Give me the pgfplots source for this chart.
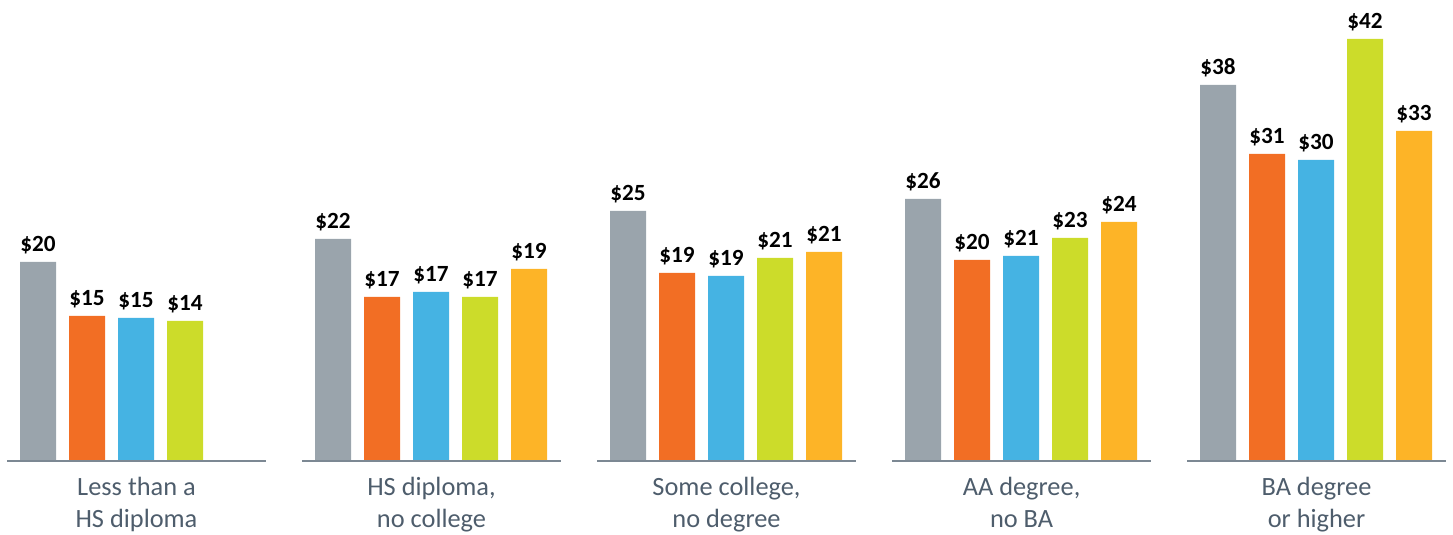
\documentclass[border=0pt]{standalone}
\usepackage{fontspec}
\setmainfont{Carlito}
\usepackage{pgfplots}
\pgfplotsset{compat=1.18}
\definecolor{cgray}{HTML}{9AA4AC}
\definecolor{corange}{HTML}{F26E24}
\definecolor{cblue}{HTML}{45B3E3}
\definecolor{cgreen}{HTML}{CCDC2A}
\definecolor{cyellow}{HTML}{FDB427}
\definecolor{baseln}{HTML}{7C8893}
\definecolor{labtxt}{HTML}{4E5D6C}

\begin{document}
\begin{tikzpicture}
\begin{axis}[
  width=14.53cm, height=5.34cm, scale only axis,
  xmin=0, xmax=1453, ymin=-7.3, ymax=46.1,
  hide axis, clip=false,
  point meta=explicit symbolic,
  nodes near coords={\$\pgfplotspointmeta},
  every node near coord/.append style={anchor=base, inner sep=0pt,
    yshift=1mm, font=\fontsize{6.6}{7.5}\selectfont\bfseries, text=black},
  bars/.style={ybar, bar width=36, bar shift=0pt, draw=none},
]
% x = bar centre in pixel units, y = dollars
\addplot[bars, fill=cgray] coordinates {
  (38,19.9)[20] (333,22.2)[22] (628,25.0)[25] (923,26.2)[26] (1218,37.6)[38]};
\addplot[bars, fill=corange] coordinates {
  (87,14.5)[15] (382,16.4)[17] (677,18.8)[19] (972,20.1)[20] (1267,30.7)[31]};
\addplot[bars, fill=cblue] coordinates {
  (136,14.3)[15] (431,16.9)[17] (726,18.5)[19] (1021,20.5)[21] (1316,30.1)[30]};
\addplot[bars, fill=cgreen] coordinates {
  (185,14.0)[14] (480,16.4)[17] (775,20.3)[21] (1070,22.3)[23] (1365,42.2)[42]};
\addplot[bars, fill=cyellow] coordinates {
  (529,19.2)[19] (824,20.9)[21] (1119,23.9)[24] (1414,33.0)[33]};

% group baselines
\draw[baseln, line width=0.45pt] (axis cs:7,0) -- (axis cs:266,0);
\draw[baseln, line width=0.45pt] (axis cs:302,0) -- (axis cs:561,0);
\draw[baseln, line width=0.45pt] (axis cs:597,0) -- (axis cs:856,0);
\draw[baseln, line width=0.45pt] (axis cs:892,0) -- (axis cs:1151,0);
\draw[baseln, line width=0.45pt] (axis cs:1187,0) -- (axis cs:1446,0);

% category labels
\tikzset{cat/.style={anchor=base, inner sep=0pt, text=labtxt,
  font=\fontsize{7.5}{9}\selectfont}}
\node[cat] at (axis cs:136.5,-3.4) {Less than a};
\node[cat] at (axis cs:136.5,-6.6) {HS diploma};
\node[cat] at (axis cs:431.5,-3.4) {HS diploma,};
\node[cat] at (axis cs:431.5,-6.6) {no college};
\node[cat] at (axis cs:726.5,-3.4) {Some college,};
\node[cat] at (axis cs:726.5,-6.6) {no degree};
\node[cat] at (axis cs:1021.5,-3.4) {AA degree,};
\node[cat] at (axis cs:1021.5,-6.6) {no BA};
\node[cat] at (axis cs:1316.5,-3.4) {BA degree};
\node[cat] at (axis cs:1316.5,-6.6) {or higher};

\path (axis cs:0,-7.3) rectangle (axis cs:1453,46.1);
\end{axis}
\end{tikzpicture}
\end{document}
